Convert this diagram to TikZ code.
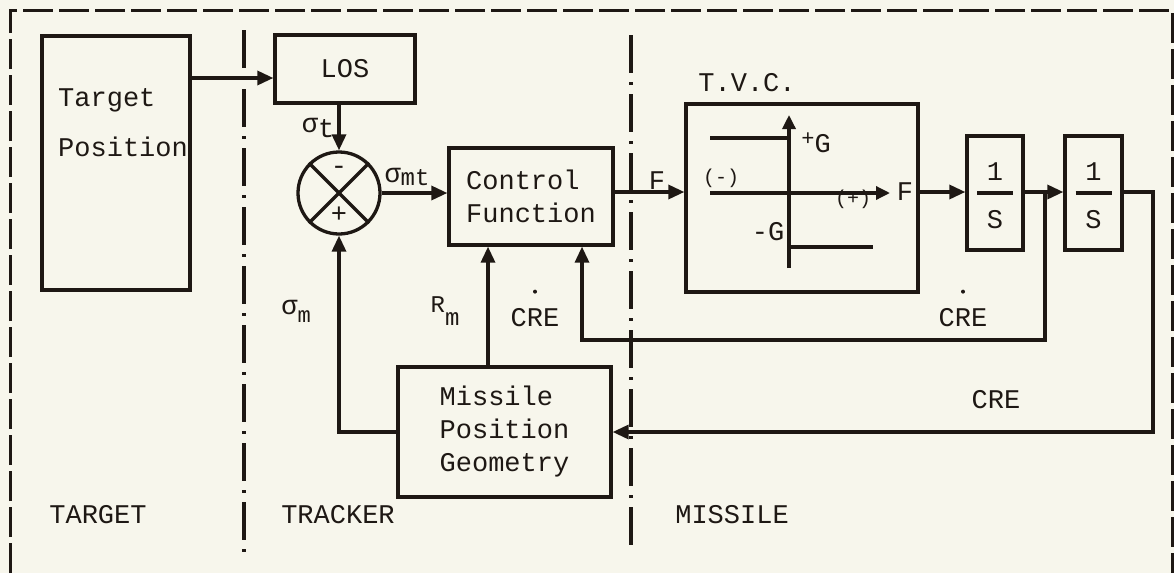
\documentclass[tikz,border=0pt]{standalone}
\usepackage{fontspec}
\setmainfont{Liberation Mono}
\usetikzlibrary{arrows.meta,calc}
\definecolor{paper}{RGB}{247,246,236}
\definecolor{ink}{RGB}{30,24,20}
\begin{document}
\begin{tikzpicture}[x=1pt,y=-1pt,
  every node/.style={font=\fontsize{27}{33}\selectfont, text=ink, inner sep=0pt},
  blk/.style={draw=ink, line width=3.3pt, rectangle},
  ln/.style={draw=ink, line width=3.3pt},
  arr/.style={draw=ink, line width=3.3pt, -{Triangle[length=16pt,width=14pt]}},
  divider/.style={draw=ink, line width=3.3pt, dash pattern=on 38pt off 9pt on 3pt off 9pt},
  frame/.style={draw=ink, line width=3pt, dash pattern=on 30pt off 6pt},
  smalltxt/.style={font=\fontsize{20}{24}\selectfont},
  subtxt/.style={font=\fontsize{24}{28}\selectfont}]
\fill[paper] (0,0) rectangle (1174,573);
\useasboundingbox (0,0) rectangle (1174,573);

% frame and dividers
\draw[frame] (10,573) -- (10,10) -- (1172,10) -- (1172,573);
\draw[divider] (244,30) -- (244,552);
\draw[divider] (631,35) -- (631,552);

% helper coordinates
\coordinate (y78) at (0,78);
\coordinate (y192) at (0,192);
\coordinate (rmx) at (488,0);
\coordinate (br) at (1045,192);
\coordinate (fbA) at (582,340);
\coordinate (rc) at (1153,432);

% blocks
\node[blk, minimum width=148pt, minimum height=254pt] (tp) at (116,163) {};
\node[anchor=base west] (tpt1) at (58,106) {Target};
\node[anchor=base west] (tpt2) at (58,156) {Position};

\node[blk, minimum width=140pt, minimum height=68pt] (los) at (345,69) {LOS};
\node[draw=ink, line width=3.3pt, circle, minimum size=82pt] (sum) at (339,193) {};
\draw[ln] (sum.north west) -- (sum.south east);
\draw[ln] (sum.north east) -- (sum.south west);
\node (summinus) at (339,170) {-};
\node (sumplus) at (339,215) {+};

\node[blk, minimum width=164pt, minimum height=97pt, align=left] (cf) at (531,196.5) {Control\\Function};

\node[blk, minimum width=232pt, minimum height=188pt] (tvc) at (802,198) {};
\node (tvclbl) at (747,83) {T.V.C.};

\node[blk, minimum width=56pt, minimum height=114pt] (i1) at (995,193) {};
\node[blk, minimum width=57pt, minimum height=114pt] (i2) at (1093.5,193) {};
\node (i1n) at ($(i1.center)+(0,-21)$) {1};
\node (i1d) at ($(i1.center)+(0,27)$) {S};
\draw[ln] ($(i1.center)+(-18,0)$) -- ($(i1.center)+(18,0)$);
\node (i2n) at ($(i2.center)+(0,-21)$) {1};
\node (i2d) at ($(i2.center)+(0,27)$) {S};
\draw[ln] ($(i2.center)+(-18,0)$) -- ($(i2.center)+(18,0)$);

\node[blk, minimum width=213pt, minimum height=130pt, align=left] (mpg) at (504.5,432) {Missile\\Position\\Geometry};

% TVC characteristic
\draw[arr, -{Triangle[length=14pt,width=13pt]}] (789,268) -- (789,115);
\draw[arr, -{Triangle[length=14pt,width=13pt]}] (710,193) -- (890,193);
\draw[ln] (710,138) -- (789,138);
\draw[ln] (789,247) -- (873,247);
\node (pG) at (816,143) {\raisebox{7pt}{\fontsize{22}{24}\selectfont+}G};
\node (mG) at (768,232) {-G};
\node[smalltxt] (mneg) at (721,178) {(-)};
\node[smalltxt] (mpos) at (853,199) {(+)};
\node (tvcF) at (905,192) {F};

% connectors
\draw[arr] (tp.east |- y78) -- (los.west |- y78);
\draw[arr] (sum.north |- los.south) -- (sum.north);
\draw[arr] (sum.east) -- (sum.east -| cf.west);
\draw[arr] (cf.east |- y192) -- (tvc.west |- y192);
\draw[arr] (tvc.east |- y192) -- (i1.west |- y192);
\draw[arr] (i1.east |- y192) -- (i2.west |- y192);
\draw[arr] (br) |- (fbA) -- (fbA |- cf.south);
\draw[arr] (i2.east |- y192) -| (rc) -- (mpg.east |- rc);
\draw[arr] (mpg.north -| rmx) -- (cf.south -| rmx);
\draw[arr] (mpg.west) -| (sum.south);

% signal labels
\node (sigt) at (318,128) {σ\raisebox{-5pt}{t}};
\node (sigmt) at (407,177) {σ\raisebox{-3pt}{\fontsize{24}{28}\selectfont mt}};
\node (sigm) at (296,311) {σ\raisebox{-8pt}{\fontsize{22}{26}\selectfont m}};
\node[subtxt, anchor=base] (rm) at (445,312) {R\raisebox{-13pt}{m}};
\node (fl) at (657,181) {F};
\node (cre1) at (535,318) {CRE};
\fill[ink] ($(cre1.north)+(0,-17)$) circle (2pt);
\node (cre2) at (963,318) {CRE};
\fill[ink] ($(cre2.north)+(0,-17)$) circle (2pt);
\node (cre3) at (996,400) {CRE};

% region labels
\node (rt) at (98,515) {TARGET};
\node (rtr) at (338,515) {TRACKER};
\node (rmi) at (732,515) {MISSILE};
\end{tikzpicture}
\end{document}
